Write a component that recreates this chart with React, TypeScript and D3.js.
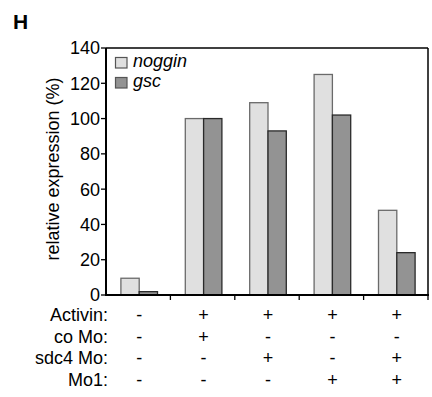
import React from "react";
import * as d3 from "d3";

const categories = ["c1", "c2", "c3", "c4", "c5"];
const seriesNames = ["noggin", "gsc"];
const noggin = [9.5, 100, 109, 125, 48];
const gsc = [1.9, 100, 93, 102, 24];
const yTicks = [0, 20, 40, 60, 80, 100, 120, 140];
const rowLabels = ["Activin:", "co Mo:", "sdc4 Mo:", "Mo1:"];
const activin = ["-", "+", "+", "+", "+"];
const coMo = ["-", "+", "-", "-", "-"];
const sdc4Mo = ["-", "-", "+", "-", "+"];
const mo1 = ["-", "-", "-", "+", "+"];

const W = 432, H = 397;
const left = 106, right = 428, top = 48, bottom = 295;
const font = "'Liberation Sans', Arial, Helvetica, sans-serif";
const fills = ["#e0e0e0", "#939393"];
const strokes = ["#6a6a6a", "#2a2a2a"];

export default function App() {
  const x = d3.scaleBand<string>().domain(categories).range([left, right]).padding(0);
  const y = d3.scaleLinear().domain([0, 140]).range([bottom, top]);
  const inner = d3.scaleBand<string>().domain(seriesNames).range([0, 36.6]);
  const seriesVals = [noggin, gsc];
  const rows = [activin, coMo, sdc4Mo, mo1];
  const rowY = [321, 342.5, 364, 385.5];
  const cx = (c: string) => (x(c) as number) + x.bandwidth() / 2;

  return (
    <svg width={W} height={H} style={{ position: "absolute", left: 0, top: 0, background: "#fff" }} fontFamily={font}>
      <text x={13} y={29} fontSize={21} fontWeight="bold">H</text>

      {/* bars */}
      {seriesVals.map((vals, si) =>
        vals.map((v, i) => {
          const c = categories[i];
          const bx = cx(c) + 1 - 18.3 + (inner(seriesNames[si]) as number);
          return (
            <rect key={si + "-" + i} x={bx} y={y(v)} width={inner.bandwidth()} height={bottom - y(v)}
              fill={fills[si]} stroke={strokes[si]} strokeWidth={1.3} />
          );
        })
      )}

      {/* frame */}
      <line x1={right} x2={right} y1={top} y2={bottom} stroke="#000" strokeWidth={1.5} />
      <line x1={left} x2={right} y1={top} y2={top} stroke="#000" strokeWidth={1.5} />
      <line x1={left} x2={left} y1={top} y2={bottom} stroke="#000" strokeWidth={2} />
      <line x1={left - 1} x2={right + 1} y1={bottom} y2={bottom} stroke="#000" strokeWidth={2} />

      {/* x ticks */}
      {categories.map((c) => (
        <line key={"xt" + c} x1={(x(c) as number) + x.bandwidth()} x2={(x(c) as number) + x.bandwidth()} y1={bottom} y2={bottom + 5} stroke="#000" strokeWidth={1.3} />
      ))}

      {/* y ticks */}
      {yTicks.map((t) => (
        <g key={"yt" + t}>
          <line x1={left - 5} x2={left} y1={y(t)} y2={y(t)} stroke="#000" strokeWidth={1.3} />
          <text x={left - 6} y={y(t)} dy="0.36em" textAnchor="end" fontSize={18}>{t}</text>
        </g>
      ))}

      <text transform={`translate(59,169) rotate(-90)`} textAnchor="middle" fontSize={18}>
        relative expression (%)
      </text>

      {/* legend */}
      {seriesNames.map((s, i) => (
        <g key={"lg" + s}>
          <rect x={115.5} y={57.5 + i * 20} width={11.5} height={10.5} fill={fills[i]} stroke="#555" strokeWidth={1.2} />
          <text x={133} y={66.5 + i * 20.5} fontSize={18} fontStyle="italic">{s}</text>
        </g>
      ))}

      {/* condition table */}
      {rowLabels.map((lab, r) => (
        <g key={"row" + r}>
          <text x={108} y={rowY[r]} textAnchor="end" fontSize={18}>{lab}</text>
          {rows[r].map((s, i) => (
            <text key={i} x={cx(categories[i]) + 1} y={rowY[r]} textAnchor="middle" fontSize={18}>{s}</text>
          ))}
        </g>
      ))}
    </svg>
  );
}
